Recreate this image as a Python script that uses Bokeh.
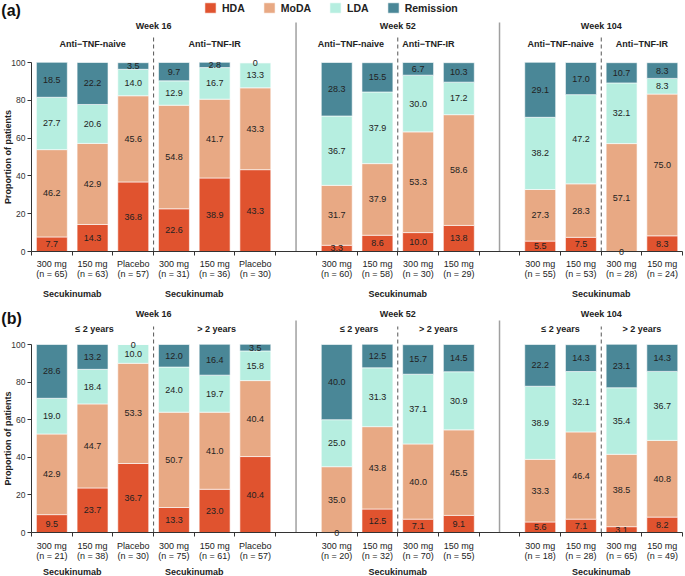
import math
from bokeh.plotting import figure
from bokeh.models import ColumnDataSource, LinearAxis, FixedTicker, Legend, LegendItem
from bokeh.layouts import column
from bokeh.embed import file_html
from bokeh.resources import INLINE
from bokeh.core.properties import value

# ---------------- data ----------------
categories = ["HDA", "MoDA", "LDA", "Remission"]
colors = ["#E0532F", "#E8A984", "#B6EEE0", "#4A8797"]
weeks = ["Week 16", "Week 52", "Week 104"]
bars_per_subgroup = [[3, 3], [2, 2], [2, 2]]

doses = ["300 mg", "150 mg", "Placebo", "300 mg", "150 mg", "Placebo",
         "300 mg", "150 mg", "300 mg", "150 mg",
         "300 mg", "150 mg", "300 mg", "150 mg"]

# panel (a)
a_subgroups = ["Anti\u2212TNF-naive", "Anti\u2212TNF-IR"]
a_n = [65, 63, 57, 31, 36, 30, 60, 58, 30, 29, 55, 53, 28, 24]
a_hda = [7.7, 14.3, 36.8, 22.6, 38.9, 43.3, 3.3, 8.6, 10.0, 13.8, 5.5, 7.5, 0, 8.3]
a_moda = [46.2, 42.9, 45.6, 54.8, 41.7, 43.3, 31.7, 37.9, 53.3, 58.6, 27.3, 28.3, 57.1, 75.0]
a_lda = [27.7, 20.6, 14.0, 12.9, 16.7, 13.3, 36.7, 37.9, 30.0, 17.2, 38.2, 47.2, 32.1, 8.3]
a_rem = [18.5, 22.2, 3.5, 9.7, 2.8, 0, 28.3, 15.5, 6.7, 10.3, 29.1, 17.0, 10.7, 8.3]

# panel (b)
b_subgroups = ["\u2264 2 years", "> 2 years"]
b_n = [21, 38, 30, 75, 61, 57, 20, 32, 70, 55, 18, 28, 65, 49]
b_hda = [9.5, 23.7, 36.7, 13.3, 23.0, 40.4, 0, 12.5, 7.1, 9.1, 5.6, 7.1, 3.1, 8.2]
b_moda = [42.9, 44.7, 53.3, 50.7, 41.0, 40.4, 35.0, 43.8, 40.0, 45.5, 33.3, 46.4, 38.5, 40.8]
b_lda = [19.0, 18.4, 10.0, 24.0, 19.7, 15.8, 25.0, 31.3, 37.1, 30.9, 38.9, 32.1, 35.4, 36.7]
b_rem = [28.6, 13.2, 0, 12.0, 16.4, 3.5, 40.0, 12.5, 15.7, 14.5, 22.2, 14.3, 23.1, 14.3]

y_ticks = [0, 20, 40, 60, 80, 100]

# ---------------- layout constants ----------------
FONT = "Liberation Sans"
TXT = "#222222"
W = 685
X0, X1 = -0.762, 16.07
BAR_W = 0.76


def slot_layout():
    xs, ticks, seps, dashes, week_c, sec_c = [], [], [], [], [], []
    start = 0
    for gi, subs in enumerate(bars_per_subgroup):
        n = sum(subs)
        xs += [start + i + 0.5 for i in range(n)]
        ticks += list(range(start, start + n + 1))
        if gi > 0:
            seps.append(start - 0.5)
        dashes.append(start + subs[0])
        week_c.append(start + n / 2)
        if gi == 0:
            s = start
            for k in subs:
                sec_c.append(s + 1)
                s += k
        else:
            sec_c.append(start + n / 2)
        start += n + 1
    return xs, ticks, seps, dashes, week_c, sec_c, start - 1


def make_panel(tag, subgroups, sub_x, ns, hda, moda, lda, rem, H, px100, ppu, rows, legend):
    def py(px):
        return 100 - (px - px100) / ppu

    xs, ticks, seps, dashes, week_c, sec_c, xend = slot_layout()
    p = figure(width=W, height=H, x_range=(X0, X1), y_range=(py(H), py(0)),
               output_backend="svg", toolbar_location=None, min_border=0,
               x_axis_location=None, y_axis_location=None)
    p.outline_line_color = None
    p.background_fill_color = "white"
    p.border_fill_color = "white"
    for g in p.grid:
        g.visible = False

    src = ColumnDataSource(dict(x=xs, HDA=hda, MoDA=moda, LDA=lda, Remission=rem))
    rends = p.vbar_stack(categories, x="x", width=BAR_W, source=src,
                         fill_color=colors, line_color="white", line_width=0.6)

    # value labels
    lx, ly, lt = [], [], []
    for i, x in enumerate(xs):
        base = 0.0
        for v in (hda[i], moda[i], lda[i], rem[i]):
            lx.append(x)
            ly.append(base + v / 2)
            lt.append("0" if v == 0 else f"{v:.1f}")
            base += v
    p.text(x=lx, y=ly, text=lt, text_align="center", text_baseline="middle",
           text_font=value(FONT), text_font_size="9px", text_color=TXT)

    # separators
    p.segment(x0=seps, y0=[0] * len(seps), x1=seps, y1=[py(rows["solid"])] * len(seps),
              line_color="#a0a0a0", line_width=1.5)
    p.segment(x0=dashes, y0=[0] * len(dashes), x1=dashes, y1=[py(rows["dash"])] * len(dashes),
              line_color="#555555", line_width=1, line_dash="4 3")

    # axes
    xaxis = LinearAxis(fixed_location=0, bounds=(0, xend), ticker=FixedTicker(ticks=ticks),
                       major_label_text_color=None, major_label_text_font_size="1px",
                       major_tick_out=4, major_tick_in=0, minor_tick_line_color=None,
                       axis_line_color="#333333", major_tick_line_color="#333333")
    p.add_layout(xaxis, "below")
    yaxis = LinearAxis(fixed_location=0, bounds=(0, 100), ticker=FixedTicker(ticks=y_ticks),
                       major_label_text_font=FONT, major_label_text_font_size="8.5px",
                       major_label_text_color="#333333", major_label_standoff=2,
                       major_tick_out=4, major_tick_in=0, minor_tick_line_color=None,
                       axis_line_color="#333333", major_tick_line_color="#333333")
    p.add_layout(yaxis, "left")
    # y axis title (rotated)
    p.text(x=[X0 + 7.5 / 40.7], y=[50], text=["Proportion of patients"], angle=math.pi / 2,
           text_align="center", text_baseline="middle", text_font=value(FONT),
           text_font_size="9px", text_font_style="bold", text_color=TXT)

    # tick labels (two lines)
    p.text(x=xs, y=[py(rows["l1"])] * len(xs), text=doses, text_align="center",
           text_baseline="middle", text_font=value(FONT), text_font_size="9px", text_color=TXT)
    p.text(x=xs, y=[py(rows["l2"])] * len(xs), text=[f"(n = {n})" for n in ns],
           text_align="center", text_baseline="middle", text_font=value(FONT),
           text_font_size="9px", text_color=TXT)
    p.text(x=sec_c, y=[py(rows["sec"])] * len(sec_c), text=["Secukinumab"] * len(sec_c),
           text_align="center", text_baseline="middle", text_font=value(FONT),
           text_font_size="9px", text_font_style="bold", text_color=TXT)

    # headers
    p.text(x=week_c, y=[py(rows["week"])] * len(week_c), text=weeks, text_align="center",
           text_baseline="middle", text_font=value(FONT), text_font_size="9px",
           text_font_style="bold", text_color=TXT)
    p.text(x=sub_x, y=[py(rows["sub"])] * len(sub_x), text=subgroups * 3,
           text_align="center", text_baseline="middle", text_font=value(FONT),
           text_font_size="9px", text_font_style="bold", text_color=TXT)
    p.text(x=[X0 + 0.02], y=[py(rows["tag"])], text=[tag], text_align="left",
           text_baseline="middle", text_font=value(FONT), text_font_size="16px",
           text_font_style="bold", text_color="#111111")

    if legend:
        items = [LegendItem(label=c, renderers=[r]) for c, r in zip(categories, rends)]
        leg = Legend(items=items, orientation="horizontal", location=(203, H - 14),
                     glyph_width=14, glyph_height=13, label_height=13, label_standoff=5,
                     spacing=17, padding=0, margin=0, border_line_color=None,
                     background_fill_alpha=0, label_text_font=FONT,
                     label_text_font_size="10.5px", label_text_font_style="bold",
                     label_text_color=TXT)
        p.add_layout(leg)
    return p


pa = make_panel("(a)", a_subgroups, [1.5, 4.5, 7.85, 9.75, 13.0, 15.0],
                a_n, a_hda, a_moda, a_lda, a_rem,
                H=303, px100=62, ppu=1.89,
                rows=dict(tag=10, week=25, sub=43, solid=22, dash=37, l1=263, l2=273, sec=293),
                legend=True)
pb = make_panel("(b)", b_subgroups, [1.55, 4.55, 8.05, 10.0, 13.0, 15.0],
                b_n, b_hda, b_moda, b_lda, b_rem,
                H=273, px100=41, ppu=1.88,
                rows=dict(tag=15, week=10, sub=25, solid=17, dash=23, l1=242, l2=252, sec=268),
                legend=False)

layout = column(pa, pb)
open("out.html", "w").write(file_html(layout, INLINE))
